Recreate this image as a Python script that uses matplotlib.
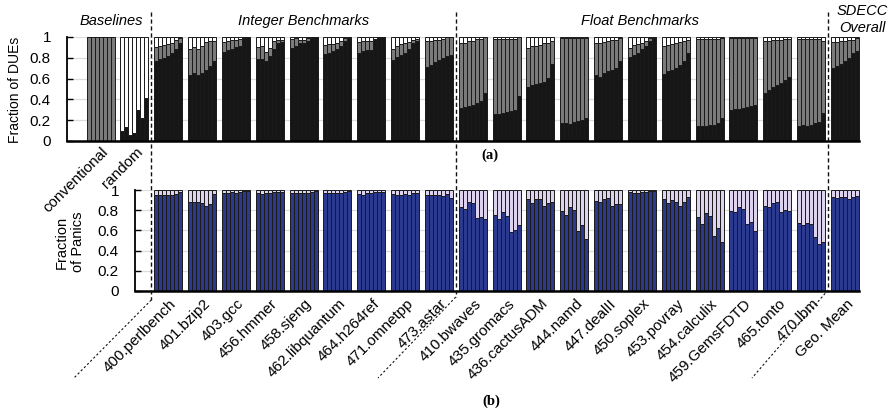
import matplotlib
matplotlib.use('Agg')
import matplotlib.pyplot as plt
from matplotlib.lines import Line2D
from matplotlib.transforms import ScaledTranslation, blended_transform_factory
import numpy as np

plt.rcParams['font.family'] = ['Liberation Sans', 'DejaVu Sans']

# ---------------- data ----------------
baseline_labels = ['conventional', 'random']
bench_labels = ['400.perlbench', '401.bzip2', '403.gcc', '456.hmmer', '458.sjeng',
                '462.libquantum', '464.h264ref', '471.omnetpp', '473.astar',
                '410.bwaves', '435.gromacs', '436.cactusADM', '444.namd', '447.dealII',
                '450.soplex', '453.povray', '454.calculix', '459.GemsFDTD', '465.tonto',
                '470.lbm', 'Geo. Mean']
yticks = [0, 0.2, 0.4, 0.6, 0.8, 1]
ytick_labels = ['0', '0.2', '0.4', '0.6', '0.8', '1']

# (a) top of the black segment, per group (7 bars each)
due_black = [
    [0, 0, 0, 0, 0, 0, 0],
    [0.10, 0.13, 0.06, 0.08, 0.30, 0.22, 0.41],
    [0.77, 0.79, 0.80, 0.82, 0.85, 0.88, 0.94],
    [0.63, 0.65, 0.635, 0.65, 0.685, 0.72, 0.765],
    [0.86, 0.875, 0.885, 0.90, 0.91, 0.99, 1.0],
    [0.79, 0.79, 0.765, 0.82, 0.88, 0.94, 0.95],
    [0.895, 0.915, 0.94, 0.94, 0.96, 1.0, 1.0],
    [0.84, 0.85, 0.87, 0.885, 0.91, 0.96, 0.99],
    [0.85, 0.865, 0.875, 0.875, 0.97, 0.99, 1.0],
    [0.775, 0.81, 0.83, 0.85, 0.88, 0.94, 0.96],
    [0.715, 0.73, 0.755, 0.78, 0.80, 0.82, 0.83],
    [0.315, 0.325, 0.34, 0.35, 0.365, 0.38, 0.46],
    [0.26, 0.26, 0.27, 0.275, 0.285, 0.30, 0.43],
    [0.52, 0.54, 0.55, 0.555, 0.57, 0.605, 0.74],
    [0.17, 0.177, 0.164, 0.186, 0.196, 0.20, 0.22],
    [0.63, 0.62, 0.65, 0.67, 0.685, 0.70, 0.765],
    [0.81, 0.83, 0.85, 0.88, 0.91, 0.96, 0.99],
    [0.645, 0.67, 0.685, 0.70, 0.73, 0.765, 0.85],
    [0.145, 0.145, 0.145, 0.155, 0.155, 0.17, 0.22],
    [0.30, 0.305, 0.31, 0.32, 0.33, 0.34, 0.35],
    [0.465, 0.49, 0.52, 0.54, 0.56, 0.59, 0.62],
    [0.145, 0.155, 0.145, 0.155, 0.17, 0.185, 0.27],
    [0.70, 0.72, 0.74, 0.765, 0.80, 0.845, 0.87],
]
# (a) top of the gray segment (white above it)
due_gray_top = [
    [1, 1, 1, 1, 1, 1, 1],
    [0.10, 0.13, 0.06, 0.08, 0.30, 0.22, 0.41],
    [0.90, 0.91, 0.92, 0.93, 0.94, 0.97, 0.99],
    [0.885, 0.90, 0.885, 0.91, 0.95, 0.96, 0.96],
    [0.95, 0.96, 0.97, 0.975, 0.98, 1.0, 1.0],
    [0.90, 0.91, 0.86, 0.89, 0.96, 0.97, 0.97],
    [0.98, 0.99, 0.975, 0.975, 0.99, 1.0, 1.0],
    [0.925, 0.93, 0.93, 0.94, 0.96, 0.99, 1.0],
    [0.95, 0.96, 0.96, 0.96, 0.98, 1.0, 1.0],
    [0.885, 0.915, 0.93, 0.94, 0.95, 0.97, 0.98],
    [0.96, 0.96, 0.97, 0.975, 0.98, 1.0, 1.0],
    [0.94, 0.94, 0.96, 0.96, 0.98, 0.98, 1.0],
    [0.98, 0.98, 0.98, 0.98, 0.98, 0.98, 1.0],
    [0.89, 0.91, 0.91, 0.925, 0.94, 0.94, 0.96],
    [0.99, 0.99, 0.99, 0.99, 0.99, 0.99, 0.99],
    [0.94, 0.94, 0.95, 0.96, 0.97, 0.975, 0.99],
    [0.89, 0.925, 0.935, 0.94, 0.96, 0.99, 1.0],
    [0.91, 0.925, 0.93, 0.94, 0.95, 0.96, 0.975],
    [0.98, 0.98, 0.98, 0.98, 0.98, 0.98, 0.99],
    [0.99, 0.99, 0.99, 0.99, 0.99, 0.99, 0.99],
    [0.96, 0.96, 0.97, 0.97, 0.975, 0.98, 0.98],
    [0.98, 0.98, 0.98, 0.98, 0.98, 0.98, 0.96],
    [0.95, 0.95, 0.96, 0.96, 0.97, 0.975, 0.99],
]
# (b) navy segment height, per benchmark
panic_navy = [
    [0.95, 0.95, 0.95, 0.955, 0.95, 0.96, 0.985],
    [0.88, 0.88, 0.88, 0.87, 0.84, 0.86, 0.96],
    [0.975, 0.975, 0.98, 0.975, 0.985, 0.99, 0.99],
    [0.975, 0.96, 0.975, 0.975, 0.985, 0.985, 0.985],
    [0.975, 0.97, 0.97, 0.975, 0.975, 0.985, 0.99],
    [0.97, 0.97, 0.97, 0.97, 0.975, 0.985, 0.99],
    [0.96, 0.95, 0.975, 0.975, 0.985, 0.985, 0.985],
    [0.96, 0.95, 0.95, 0.96, 0.95, 0.97, 0.975],
    [0.95, 0.95, 0.95, 0.95, 0.94, 0.96, 0.92],
    [0.835, 0.81, 0.885, 0.87, 0.72, 0.73, 0.71],
    [0.75, 0.71, 0.785, 0.745, 0.58, 0.60, 0.655],
    [0.91, 0.875, 0.91, 0.91, 0.84, 0.87, 0.885],
    [0.79, 0.75, 0.83, 0.80, 0.59, 0.65, 0.515],
    [0.895, 0.885, 0.91, 0.917, 0.845, 0.86, 0.86],
    [0.977, 0.97, 0.97, 0.977, 0.983, 0.99, 0.99],
    [0.91, 0.875, 0.90, 0.885, 0.845, 0.88, 0.927],
    [0.73, 0.66, 0.77, 0.74, 0.54, 0.62, 0.49],
    [0.79, 0.78, 0.835, 0.81, 0.66, 0.68, 0.59],
    [0.845, 0.835, 0.87, 0.88, 0.78, 0.80, 0.79],
    [0.67, 0.655, 0.675, 0.665, 0.53, 0.47, 0.49],
    [0.935, 0.917, 0.935, 0.935, 0.91, 0.935, 0.945],
]

# ---------------- styling ----------------
W, H, DPI = 893, 413, 100
C_BLACK = '#161616'
C_GRAY = '#7b7b7b'
C_NAVY = '#2b3a8e'
C_LAV = '#ddd3ee'
C_EDGE = '#1a1a1a'
GRID = '#dcdcdc'

PITCH = 33.84              # px per group
GW = 28.0 / PITCH          # group width (data units)
BW = GW / 7.0
OFFS = (np.arange(7) - 3) * BW

fig = plt.figure(figsize=(W / DPI, H / DPI), dpi=DPI)

def px_box(l, r, t, b):
    return [l / W, 1 - b / H, (r - l) / W, (b - t) / H]

ax1 = fig.add_axes(px_box(67, 859, 37, 141))
ax2 = fig.add_axes(px_box(135, 859, 190, 291))

ax1.set_xlim(-0.99, 22 + GW / 2)
ax2.set_xlim(1.02, 22 + GW / 2)

top_labels = baseline_labels + bench_labels
for gi in range(len(top_labels)):
    x = gi + OFFS
    b = np.array(due_black[gi])
    g = np.array(due_gray_top[gi])
    kw = dict(width=BW, edgecolor=C_EDGE, linewidth=0.7, zorder=3, clip_on=False)
    ax1.bar(x, b, color=C_BLACK, **kw)
    ax1.bar(x, g - b, bottom=b, color=C_GRAY, **kw)
    ax1.bar(x, 1 - g, bottom=g, color='white', **kw)

for bi in range(len(bench_labels)):
    x = bi + 2 + OFFS
    n = np.array(panic_navy[bi])
    kw = dict(width=BW, edgecolor=C_EDGE, linewidth=0.7, zorder=3, clip_on=False)
    ax2.bar(x, n, color=C_NAVY, **kw)
    ax2.bar(x, 1 - n, bottom=n, color=C_LAV, **kw)

for ax in (ax1, ax2):
    ax.set_ylim(0, 1)
    ax.set_yticks(yticks)
    ax.set_yticklabels([])
    ax.yaxis.grid(True, color=GRID, linewidth=0.9, zorder=0)
    ax.set_axisbelow(True)
    for s in ('top', 'right'):
        ax.spines[s].set_visible(False)
    ax.spines['left'].set_linewidth(1.3)
    ax.spines['bottom'].set_linewidth(1.8)
    ax.spines['bottom'].set_zorder(5)
    ax.tick_params(axis='x', length=0, labelsize=11)
    ax.tick_params(axis='y', direction='in', length=4, width=1.0)
    # y tick labels placed 16 px left of the spine
    off = ScaledTranslation(-16 / DPI, 0, fig.dpi_scale_trans)
    tr = blended_transform_factory(ax.transAxes, ax.transData) + off
    for yv, yl in zip(yticks, ytick_labels):
        ax.text(0, yv, yl, transform=tr, ha='right', va='center_baseline',
                fontsize=11, clip_on=False)

ax1.set_xticks([0, 1])
ax1.set_xticklabels(baseline_labels, rotation=45, ha='right', va='top',
                    rotation_mode='anchor')
ax1.tick_params(axis='x', pad=3)
ax2.set_xticks(np.arange(len(bench_labels)) + 2)
ax2.set_xticklabels(bench_labels, rotation=45, ha='right', va='top',
                    rotation_mode='anchor')
ax2.tick_params(axis='x', pad=4)
shift = ScaledTranslation(1 / DPI, 0, fig.dpi_scale_trans)
for lab in ax1.get_xticklabels() + ax2.get_xticklabels():
    lab.set_transform(lab.get_transform() + shift)

# axis titles
fig.text(15 / W, 1 - 90 / H, 'Fraction of DUEs', rotation=90, ha='center',
         va='center', fontsize=10)
fig.text(70 / W, 1 - 242 / H, 'Fraction\nof Panics', rotation=90, ha='center',
         va='center', fontsize=10.5, linespacing=1.15)

# group titles
tkw = dict(fontsize=10.5, style='italic', ha='center', va='center')
fig.text(111 / W, 1 - 21 / H, 'Baselines', **tkw)
fig.text(304 / W, 1 - 21 / H, 'Integer Benchmarks', **tkw)
fig.text(640 / W, 1 - 21 / H, 'Float Benchmarks', **tkw)
fig.text(862 / W, 1 - 11 / H, 'SDECC', **tkw)
fig.text(862 / W, 1 - 28 / H, 'Overall', **tkw)

# panel captions
fig.text(490 / W, 1 - 155 / H, '(a)', fontsize=10.5, fontweight='bold',
         family='Liberation Serif', ha='center', va='center')
fig.text(491 / W, 1 - 401 / H, '(b)', fontsize=10.5, fontweight='bold',
         family='Liberation Serif', ha='center', va='center')

# separators
fig.canvas.draw()
sep_x = [1.5, 10.5, 21.5]
sep_bottom = [300, 297, 290]
diag_end = [(73, 379), (378, 378), (752, 378)]
for sx, sb, (ex, ey) in zip(sep_x, sep_bottom, diag_end):
    xpx = ax1.transData.transform((sx, 0))[0]
    fig.add_artist(Line2D([xpx / W, xpx / W], [1 - 12 / H, 1 - sb / H],
                          transform=fig.transFigure, color='#111111',
                          linewidth=1.0, linestyle=(0, (3, 2)), zorder=10))
    fig.add_artist(Line2D([xpx / W, ex / W], [1 - sb / H, 1 - ey / H],
                          transform=fig.transFigure, color='#111111',
                          linewidth=0.8, linestyle=(0, (2, 2)), zorder=10))

fig.savefig('out.png', dpi=DPI)
